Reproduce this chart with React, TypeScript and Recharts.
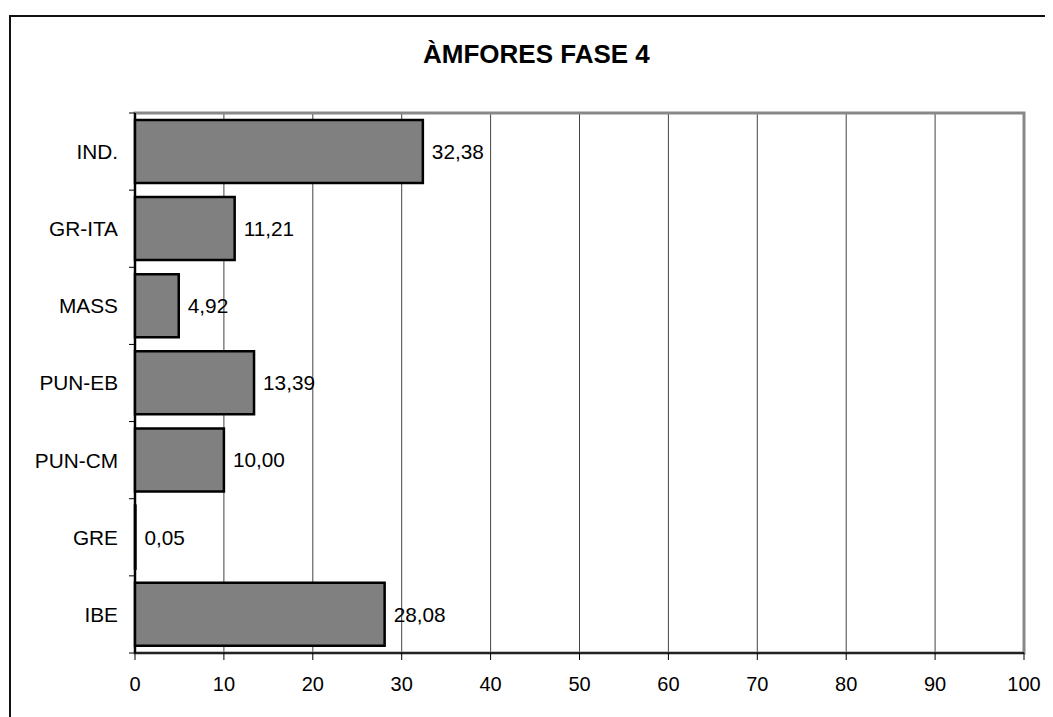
import React from 'react';
import { BarChart, Bar, XAxis, YAxis, CartesianGrid, LabelList, ReferenceArea } from 'recharts';

const categories = ['IND.', 'GR-ITA', 'MASS', 'PUN-EB', 'PUN-CM', 'GRE', 'IBE'];
const values = [32.38, 11.21, 4.92, 13.39, 10.0, 0.05, 28.08];
const xTicks = [0, 10, 20, 30, 40, 50, 60, 70, 80, 90, 100];
const title = 'ÀMFORES FASE 4';

const data = categories.map((name, i) => ({ name, value: values[i] }));

const FONT = '"Liberation Sans", Arial, sans-serif';
const W = 1045;
const H = 709;
const M_TOP = 105;
const M_RIGHT = 29;
const Y_W = 127;
const X_H = 64;
const PLOT_H = H - M_TOP - X_H;
const BAND = PLOT_H / categories.length;

const CatTick = (props: any) => {
  const { y, payload, index } = props;
  const axisX = Y_W;
  return (
    <g>
      <text
        x={axisX - 17}
        y={y}
        dy="0.355em"
        textAnchor="end"
        fontSize={20.8}
        fontFamily={FONT}
        fill="#000"
      >
        {payload.value}
      </text>
      <line x1={axisX - 6} x2={axisX} y1={y - BAND / 2} y2={y - BAND / 2} stroke="#000" strokeWidth={1} />
      {index === categories.length - 1 && (
        <line x1={axisX - 6} x2={axisX} y1={y + BAND / 2} y2={y + BAND / 2} stroke="#000" strokeWidth={1} />
      )}
    </g>
  );
};

const fmt = (v: any) => Number(v).toFixed(2).replace('.', ',');

export default function App() {
  return (
    <div style={{ position: 'relative', width: W, height: H, fontFamily: FONT }}>
      <div
        style={{
          position: 'absolute',
          left: 1,
          top: 7,
          width: W - 1,
          height: H - 7,
          borderTop: '2px solid #111',
          borderLeft: '2px solid #111',
          boxSizing: 'border-box',
        }}
      />
      <div
        style={{
          position: 'absolute',
          left: 528.4,
          top: 32.7,
          transform: 'translateX(-50%)',
          fontSize: 26,
          lineHeight: '26px',
          fontWeight: 'bold',
          whiteSpace: 'nowrap',
          color: '#000',
          fontFamily: FONT,
        }}
      >
        {title}
      </div>
      <BarChart
        layout="vertical"
        width={W}
        height={H}
        data={data}
        margin={{ top: M_TOP, right: M_RIGHT, left: 0, bottom: 0 }}
        barCategoryGap="9%"
      >
        <CartesianGrid horizontal={false} stroke="#444" strokeWidth={1} />
        <ReferenceArea x1={0} x2={100} fill="none" stroke="#888" strokeWidth={3} ifOverflow="visible" />
        <XAxis
          type="number"
          domain={[0, 100]}
          ticks={xTicks}
          interval={0}
          height={X_H}
          tickSize={7}
          tickMargin={17}
          axisLine={{ stroke: '#000', strokeWidth: 1.5 }}
          tickLine={{ stroke: '#000', strokeWidth: 1 }}
          tick={{ fill: '#000', fontSize: 20, fontFamily: FONT }}
        />
        <YAxis
          type="category"
          dataKey="name"
          width={Y_W}
          interval={0}
          axisLine={{ stroke: '#000', strokeWidth: 2 }}
          tickLine={false}
          tick={<CatTick />}
        />
        <Bar dataKey="value" fill="#808080" stroke="#000" strokeWidth={2.5} isAnimationActive={false}>
          <LabelList
            dataKey="value"
            position="right"
            offset={9}
            formatter={fmt}
            style={{ fill: '#000', fontSize: 20.8, fontFamily: FONT }}
          />
        </Bar>
      </BarChart>
    </div>
  );
}
